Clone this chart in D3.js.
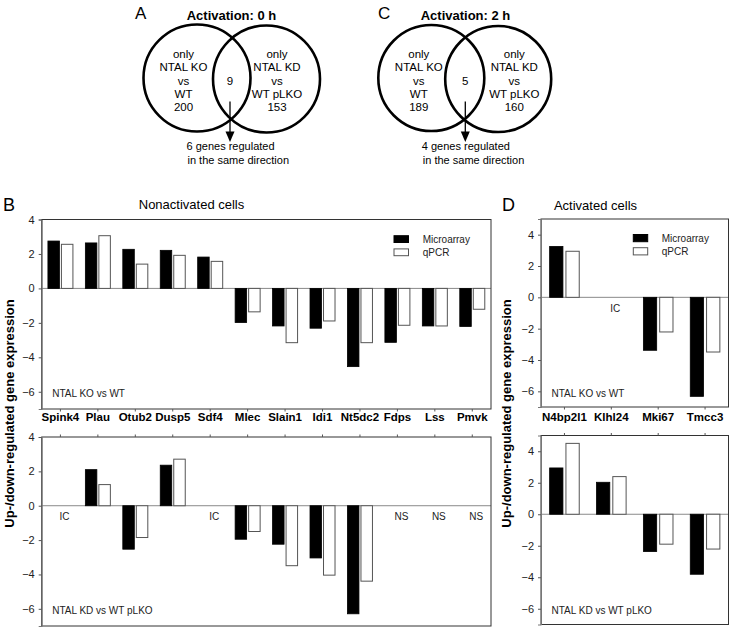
<!DOCTYPE html>
<html><head><meta charset="utf-8">
<script src="https://cdn.jsdelivr.net/npm/d3@7"></script>
<style>body{margin:0;background:#fff} svg{display:block;font-family:"Liberation Sans",Arial,sans-serif}</style>
</head><body><svg id="c" width="733" height="630"></svg>
<script>
// ---------- data ----------
const vennLetters = ["A", "C"];
const vennTitles = ["Activation: 0 h", "Activation: 2 h"];
const vennKoOnly = [200, 189];
const vennKdOnly = [153, 160];
const vennShared = [9, 5];
const vennSameDir = [6, 4];

const genesB = ["Spink4","Plau","Otub2","Dusp5","Sdf4","Mlec","Slain1","Idi1","Nt5dc2","Fdps","Lss","Pmvk"];
const koMicroB = [2.75, 2.64, 2.27, 2.21, 1.82, -1.98, -2.18, -2.31, -4.54, -3.13, -2.18, -2.21];
const koQpcrB  = [2.56, 3.06, 1.41, 1.92, 1.57, -1.36, -3.15, -1.89, -3.15, -2.14, -2.18, -1.21];
const koNoteB  = ["","","","","","","","","","","",""];
const kdMicroB = [null, 2.10, -2.53, 2.36, null, -1.95, -2.24, -3.04, -6.29, null, null, null];
const kdQpcrB  = [null, 1.23, -1.85, 2.71, null, -1.50, -3.49, -4.04, -4.39, null, null, null];
const kdNoteB  = ["IC","","","","IC","","","","","NS","NS","NS"];

const genesD = ["N4bp2l1","Klhl24","Mki67","Tmcc3"];
const koMicroD = [3.25, null, -3.38, -6.32];
const koQpcrD  = [2.94, null, -2.21, -3.49];
const koNoteD  = ["","IC","",""];
const kdMicroD = [2.94, 2.03, -2.37, -3.81];
const kdQpcrD  = [4.50, 2.39, -1.90, -2.21];
const kdNoteD  = ["","","",""];

const yTicks = [-6, -4, -2, 0, 2, 4];
const seriesNames = ["Microarray", "qPCR"];

// ---------- drawing ----------
const svg = d3.select("#c");
const FONT = '"Liberation Sans",Arial,sans-serif';

// Venn diagrams
const vennLayout = [
  {lx:197, ly:78, rx:266.5, ry:79, r:53.5, tl:183.5, tr:277, tm:230, letterX:135, titleX:231.5},
  {lx:431.3, ly:78, rx:498.2, ry:79, r:53, tl:418.8, tr:514.3, tm:465.3, letterX:378, titleX:465.5}
];
vennLayout.forEach((L, i) => {
  const g = svg.append("g");
  g.append("text").attr("x", L.letterX).attr("y", 19).attr("font-size", 17).text(vennLetters[i]);
  g.append("text").attr("x", L.titleX).attr("y", 19.5).attr("text-anchor","middle")
    .attr("font-size", 13).attr("font-weight","bold").text(vennTitles[i]);
  [[L.lx,L.ly],[L.rx,L.ry]].forEach(([cx,cy]) => {
    g.append("circle").attr("cx",cx).attr("cy",cy).attr("r",L.r)
      .attr("fill","none").attr("stroke","#000").attr("stroke-width",2.6);
  });
  const base = [57.5, 71, 84.5, 97.5, 111];
  const leftLines = ["only","NTAL KO","vs","WT", String(vennKoOnly[i])];
  const rightLines = ["only","NTAL KD","vs","WT pLKO", String(vennKdOnly[i])];
  leftLines.forEach((t,k)=> g.append("text").attr("x",L.tl).attr("y",base[k]).attr("text-anchor","middle").attr("font-size",11.5).text(t));
  rightLines.forEach((t,k)=> g.append("text").attr("x",L.tr).attr("y",base[k]).attr("text-anchor","middle").attr("font-size",11.5).text(t));
  g.append("text").attr("x",L.tm).attr("y",84.5).attr("text-anchor","middle").attr("font-size",11.5).text(String(vennShared[i]));
  g.append("line").attr("x1",L.tm).attr("x2",L.tm).attr("y1",101.5).attr("y2",133).attr("stroke","#000").attr("stroke-width",1.3);
  g.append("path").attr("d",`M${L.tm-4.5},131.5L${L.tm+4.5},131.5L${L.tm},142Z`).attr("fill","#000");
  g.append("text").attr("x",L.tm-43.5).attr("y",149.5).attr("font-size",11).text(`${vennSameDir[i]} genes regulated`);
  g.append("text").attr("x",L.tm-42.5).attr("y",164).attr("font-size",11).text("in the same direction");
});

// Bar panels
function panel(o) {
  const g = svg.append("g");
  const x = d3.scaleBand().domain(o.genes).range([o.x0, o.x1]).padding(0);
  const y = d3.scaleLinear().domain(o.domain).range([o.yBot, o.yTop]);
  const cx = d => x(d) + x.bandwidth()/2;

  g.append("line").attr("x1",o.x0).attr("x2",o.x1).attr("y1",y(0)).attr("y2",y(0))
    .attr("stroke","#8a8a8a").attr("stroke-width",1);

  const data = o.genes.map((gname,i)=>({g:gname, m:o.micro[i], q:o.qpcr[i], n:o.notes[i]}));
  g.selectAll(".bm").data(data.filter(d=>d.m!=null)).join("rect")
    .attr("x", d => cx(d.g) - o.gap/2 - o.barW)
    .attr("width", o.barW)
    .attr("y", d => Math.min(y(d.m), y(0)))
    .attr("height", d => Math.abs(y(d.m) - y(0)))
    .attr("fill","#000").attr("stroke","#000").attr("stroke-width",0.8);
  g.selectAll(".bq").data(data.filter(d=>d.q!=null)).join("rect")
    .attr("x", d => cx(d.g) + o.gap/2)
    .attr("width", o.barW)
    .attr("y", d => Math.min(y(d.q), y(0)))
    .attr("height", d => Math.abs(y(d.q) - y(0)))
    .attr("fill","#fff").attr("stroke","#555").attr("stroke-width",1);
  g.selectAll(".nt").data(data.filter(d=>d.n)).join("text")
    .attr("x", d => cx(d.g) + 4).attr("y", y(0) + 14.5)
    .attr("text-anchor","middle").attr("font-size",10).attr("fill","#222").text(d=>d.n);

  g.append("rect").attr("x",o.x0).attr("y",o.yTop).attr("width",o.x1-o.x0).attr("height",o.yBot-o.yTop)
    .attr("fill","none").attr("stroke","#333").attr("stroke-width",1);

  const ya = g.append("g").attr("transform",`translate(${o.x0},0)`)
    .call(d3.axisLeft(y).tickValues(yTicks).tickSize(3).tickPadding(4).tickFormat(d3.format("d")));
  ya.select(".domain").attr("stroke","#777");
  ya.selectAll(".tick line").attr("stroke","#555");
  ya.selectAll("text").attr("font-family",FONT).attr("font-size",11).attr("fill","#222");

  const xa = o.ticksDown ? d3.axisBottom(x) : d3.axisTop(x);
  const xg = g.append("g").attr("transform",`translate(0,${o.ticksDown ? o.yBot : o.yTop})`)
    .call(xa.tickSize(2.5).tickFormat(""));
  xg.select(".domain").remove();
  xg.selectAll(".tick line").attr("stroke","#555");

  if (o.showGenes) {
    g.selectAll(".gl").data(o.genes).join("text")
      .attr("x", d => cx(d)).attr("y", o.geneY).attr("text-anchor","middle")
      .attr("font-size",11.5).attr("font-weight","bold").text(d=>d);
  }
  g.append("text").attr("x",o.x0+10.5).attr("y",y(-6)+5.5).attr("font-size",10).attr("fill","#222").text(o.label);

  if (o.legend) {
    const L = o.legend;
    seriesNames.forEach((s,k)=>{
      const by = L.y + k*13.2;
      g.append("rect").attr("x",L.x).attr("y",by).attr("width",L.w).attr("height",L.h)
        .attr("fill", k===0 ? "#000" : "#fff").attr("stroke", k===0 ? "#000" : "#555").attr("stroke-width",1);
      g.append("text").attr("x",L.tx).attr("y",by+L.h/2+3.6).attr("font-size",10).attr("fill","#222").text(s);
    });
  }
  return g;
}

panel({genes:genesB, micro:koMicroB, qpcr:koQpcrB, notes:koNoteB, x0:41.7, x1:491, yTop:219.5, yBot:409,
  domain:[-7,4], barW:11.5, gap:2, ticksDown:true, showGenes:true, geneY:420.5, label:"NTAL KO vs WT",
  legend:{x:394, y:235.7, w:14.5, h:6.8, tx:422.7}});
panel({genes:genesB, micro:kdMicroB, qpcr:kdQpcrB, notes:kdNoteB, x0:41.7, x1:491, yTop:437, yBot:626,
  domain:[-7,4], barW:11.5, gap:2, ticksDown:false, showGenes:false, label:"NTAL KD vs WT pLKO"});
panel({genes:genesD, micro:koMicroD, qpcr:koQpcrD, notes:koNoteD, x0:541, x1:728.5, yTop:219, yBot:407,
  domain:[-7,5], barW:13.3, gap:3, ticksDown:true, showGenes:true, geneY:420.5, label:"NTAL KO vs WT",
  legend:{x:633.3, y:234.5, w:14.4, h:7.2, tx:661.7}});
panel({genes:genesD, micro:kdMicroD, qpcr:kdQpcrD, notes:kdNoteD, x0:541, x1:728.5, yTop:435.5, yBot:624.5,
  domain:[-7,5], barW:13.3, gap:3, ticksDown:false, showGenes:false, label:"NTAL KD vs WT pLKO"});

svg.append("text").attr("x",3).attr("y",210.5).attr("font-size",18).text("B");
svg.append("text").attr("x",502).attr("y",210.5).attr("font-size",18).text("D");
svg.append("text").attr("x",191.5).attr("y",209).attr("text-anchor","middle").attr("font-size",13).text("Nonactivated cells");
svg.append("text").attr("x",595.5).attr("y",210).attr("text-anchor","middle").attr("font-size",13).text("Activated cells");

[14, 510.5].forEach(xx=>{
  svg.append("text").attr("transform",`translate(${xx},413.5) rotate(-90)`).attr("text-anchor","middle")
    .attr("font-size",13).attr("font-weight","bold").text("Up-/down-regulated gene expression");
});
</script></body></html>
